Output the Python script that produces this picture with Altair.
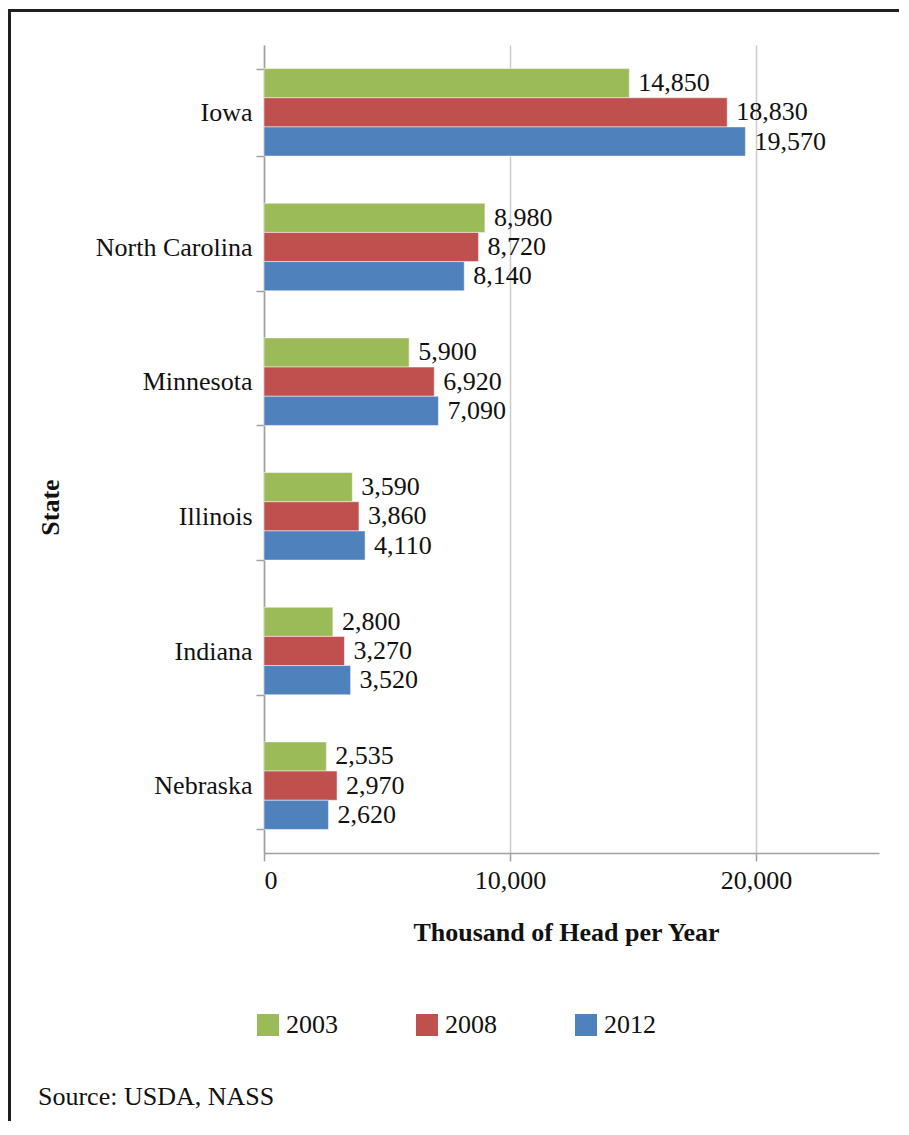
import altair as alt
import pandas as pd

states = ["Iowa", "North Carolina", "Minnesota", "Illinois", "Indiana", "Nebraska"]
years = ["2003", "2008", "2012"]
v2003 = [14850, 8980, 5900, 3590, 2800, 2535]
v2008 = [18830, 8720, 6920, 3860, 3270, 2970]
v2012 = [19570, 8140, 7090, 4110, 3520, 2620]
colors = ["#9BBB59", "#C0504D", "#4F81BD"]

rows = []
for i, s in enumerate(states):
    for y, vals in zip(years, [v2003, v2008, v2012]):
        rows.append({"State": s, "Year": y, "Value": vals[i]})
df = pd.DataFrame(rows)

FONT = "Liberation Serif"
FS = 26

yenc = alt.Y("State:N", sort=states,
             scale=alt.Scale(paddingInner=0.35, paddingOuter=0.175),
             axis=alt.Axis(title="State", titleAngle=-90, titleX=-214, titleY=462,
                           titleAlign="center", titleBaseline="middle",
                           titleFontWeight="bold", titleFont=FONT, titleFontSize=FS,
                           titleColor="#111",
                           labelFont=FONT, labelFontSize=FS, labelColor="#111",
                           labelPadding=4, tickSize=8, tickBand="extent",
                           domainColor="#a0a0a0", tickColor="#a0a0a0",
                           domainWidth=1.5, tickWidth=1.5, grid=False))
xenc = alt.X("Value:Q", scale=alt.Scale(domain=[0, 25000]),
             axis=alt.Axis(title="Thousand of Head per Year", values=[0, 10000, 20000],
                           format=",.0f", titleX=302, titleY=79, titleBaseline="middle",
                           titleFontWeight="bold", titleFont=FONT, titleFontSize=FS,
                           titleColor="#111",
                           labelFont=FONT, labelFontSize=FS, labelColor="#111",
                           labelPadding=6, tickSize=8,
                           domainColor="#a0a0a0", tickColor="#a0a0a0",
                           domainWidth=1.5, tickWidth=1.5,
                           grid=True, gridColor="#cccccc", gridWidth=1.5))

bars = alt.Chart(df).mark_bar(stroke="white", strokeWidth=0.5).encode(
    y=yenc,
    x=xenc,
    yOffset=alt.YOffset("Year:N", sort=years),
    color=alt.Color("Year:N", sort=years,
                    scale=alt.Scale(domain=years, range=colors),
                    legend=alt.Legend(title=None, orient="none", direction="horizontal",
                                      columns=3, legendX=-9, legendY=967,
                                      symbolType="square", symbolSize=484,
                                      symbolStrokeWidth=0, labelFont=FONT,
                                      labelFontSize=FS, labelColor="#111",
                                      labelOffset=5, columnPadding=76)),
)

labels = alt.Chart(df).mark_text(align="left", baseline="middle", dx=9,
                                 font=FONT, fontSize=FS, color="#111").encode(
    y=yenc,
    x=xenc,
    yOffset=alt.YOffset("Year:N", sort=years),
    text=alt.Text("Value:Q", format=","),
)

source = alt.Chart(pd.DataFrame({"t": ["Source: USDA, NASS"]})).mark_text(
    align="left", baseline="middle", font=FONT, fontSize=FS, color="#111"
).encode(x=alt.value(-226), y=alt.value(1052), text="t:N")

border_left = alt.Chart(pd.DataFrame({"a": [0]})).mark_rule(
    color="#231f20", strokeWidth=3).encode(
    x=alt.value(-254.5), y=alt.value(-36), y2=alt.value(1090))
border_top = alt.Chart(pd.DataFrame({"a": [0]})).mark_rule(
    color="#231f20", strokeWidth=3).encode(
    x=alt.value(-256), x2=alt.value(635), y=alt.value(-34.5))

chart = alt.layer(bars, labels, source, border_left, border_top).properties(
    width=615, height=808,
    autosize=alt.AutoSizeParams(type="none"),
    padding={"left": 256, "top": 37, "right": 20, "bottom": 268},
).configure(background="white", view=alt.ViewConfig(stroke=None))

chart.save("out.html", embed_options={"renderer": "svg", "actions": False})
